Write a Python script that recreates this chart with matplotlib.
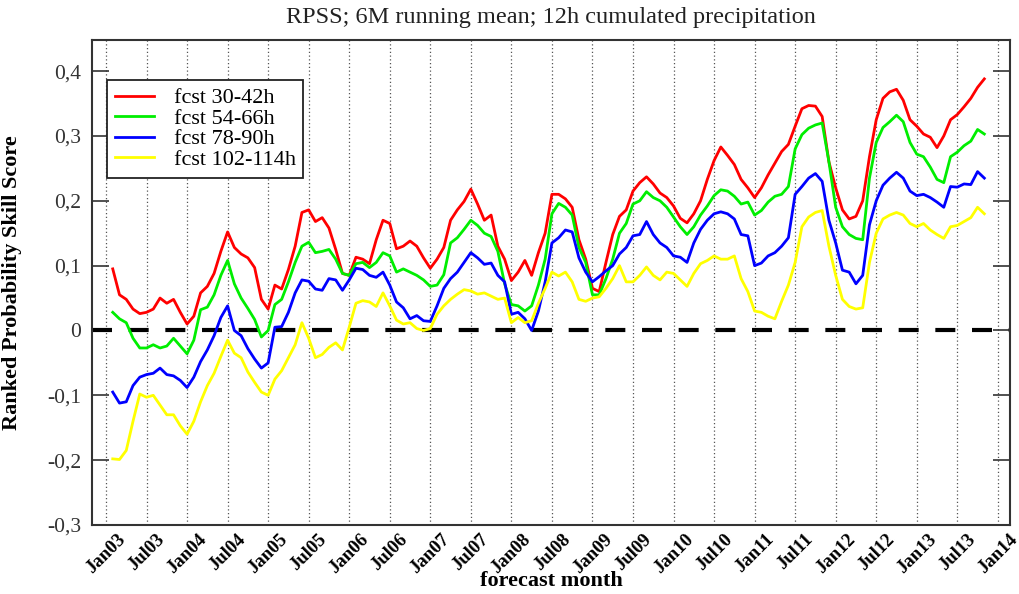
import numpy as np
import matplotlib
matplotlib.use("Agg")
import matplotlib.pyplot as plt

# month index: 0 = Jan03; data from Feb03 (1) to Nov13 (130)
months = np.arange(1, 131)

fcst_30_42 = [
    0.095, 0.055, 0.048, 0.033, 0.026, 0.028, 0.033, 0.050, 0.042, 0.048,
    0.028, 0.010, 0.022, 0.058, 0.068, 0.088, 0.122, 0.152, 0.128, 0.118,
    0.112, 0.097, 0.048, 0.033, 0.070, 0.064, 0.094, 0.130, 0.182, 0.186,
    0.168, 0.174, 0.158, 0.125, 0.088, 0.085, 0.113, 0.110, 0.103, 0.140,
    0.170, 0.165, 0.126, 0.130, 0.138, 0.130, 0.112, 0.096, 0.110, 0.128,
    0.170, 0.186, 0.199, 0.218, 0.195, 0.170, 0.178, 0.130, 0.110, 0.077,
    0.090, 0.108, 0.085, 0.120, 0.150, 0.210, 0.210, 0.203, 0.190, 0.140,
    0.110, 0.065, 0.060, 0.105, 0.148, 0.176, 0.186, 0.215, 0.228, 0.237,
    0.226, 0.212, 0.205, 0.192, 0.173, 0.166, 0.180, 0.200, 0.233, 0.262,
    0.283, 0.270, 0.256, 0.233, 0.220, 0.205, 0.220, 0.240, 0.258, 0.276,
    0.287, 0.315, 0.342, 0.347, 0.346, 0.330, 0.260, 0.220, 0.186, 0.172,
    0.176, 0.200, 0.268, 0.325, 0.358, 0.368, 0.372, 0.355, 0.325, 0.315,
    0.303, 0.298, 0.282, 0.300, 0.325, 0.333, 0.345, 0.358, 0.375, 0.388,
]

fcst_54_66 = [
    0.028, 0.018, 0.012, -0.012, -0.027, -0.027, -0.022, -0.027, -0.024, -0.012,
    -0.024, -0.036, -0.015, 0.032, 0.036, 0.055, 0.085, 0.108, 0.072, 0.050,
    0.034, 0.017, -0.010, 0.000, 0.040, 0.048, 0.075, 0.105, 0.130, 0.136,
    0.120, 0.122, 0.125, 0.110, 0.088, 0.085, 0.103, 0.105, 0.097, 0.105,
    0.120, 0.115, 0.090, 0.095, 0.090, 0.085, 0.078, 0.068, 0.070, 0.086,
    0.135, 0.143, 0.156, 0.170, 0.162, 0.150, 0.145, 0.122, 0.072, 0.040,
    0.038, 0.030, 0.038, 0.070, 0.110, 0.180, 0.196, 0.190, 0.178, 0.128,
    0.105, 0.055, 0.055, 0.080, 0.110, 0.150, 0.165, 0.195, 0.200, 0.214,
    0.205, 0.200, 0.190, 0.175, 0.160, 0.148, 0.160, 0.178, 0.192, 0.208,
    0.217, 0.215, 0.207, 0.195, 0.198, 0.178, 0.185, 0.198, 0.207, 0.210,
    0.222, 0.280, 0.302, 0.312, 0.317, 0.320, 0.260, 0.190, 0.160, 0.148,
    0.142, 0.140, 0.235, 0.290, 0.313, 0.322, 0.332, 0.322, 0.290, 0.272,
    0.268, 0.252, 0.233, 0.228, 0.268, 0.275, 0.285, 0.292, 0.310, 0.303,
]

fcst_78_90 = [
    -0.095, -0.112, -0.110, -0.085, -0.072, -0.068, -0.066, -0.058, -0.068, -0.070,
    -0.077, -0.088, -0.072, -0.048, -0.030, -0.008, 0.020, 0.038, 0.000, -0.008,
    -0.028, -0.044, -0.058, -0.050, 0.005, 0.006, 0.028, 0.058, 0.078, 0.076,
    0.064, 0.062, 0.080, 0.078, 0.062, 0.078, 0.096, 0.094, 0.085, 0.082,
    0.090, 0.070, 0.044, 0.035, 0.018, 0.023, 0.015, 0.014, 0.038, 0.065,
    0.080, 0.090, 0.105, 0.120, 0.112, 0.102, 0.104, 0.085, 0.075, 0.025,
    0.028, 0.018, 0.000, 0.030, 0.075, 0.135, 0.143, 0.155, 0.152, 0.112,
    0.090, 0.075, 0.083, 0.092, 0.100, 0.118, 0.128, 0.146, 0.148, 0.168,
    0.148, 0.135, 0.128, 0.115, 0.113, 0.105, 0.135, 0.156, 0.170, 0.180,
    0.183, 0.180, 0.172, 0.148, 0.146, 0.100, 0.104, 0.115, 0.120, 0.130,
    0.143, 0.210, 0.222, 0.235, 0.242, 0.230, 0.170, 0.135, 0.093, 0.090,
    0.072, 0.085, 0.163, 0.200, 0.224, 0.235, 0.244, 0.235, 0.215, 0.208,
    0.210, 0.205, 0.198, 0.190, 0.222, 0.221, 0.226, 0.225, 0.245, 0.235,
]

fcst_102_114 = [
    -0.198, -0.199, -0.185, -0.140, -0.098, -0.103, -0.100, -0.115, -0.130, -0.130,
    -0.147, -0.160, -0.140, -0.110, -0.085, -0.066, -0.040, -0.015, -0.035, -0.042,
    -0.064, -0.080, -0.095, -0.100, -0.075, -0.062, -0.042, -0.022, 0.012, -0.012,
    -0.042, -0.037, -0.026, -0.019, -0.030, 0.005, 0.042, 0.046, 0.044, 0.037,
    0.058, 0.038, 0.016, 0.010, 0.012, 0.003, 0.000, 0.003, 0.025, 0.038,
    0.048, 0.056, 0.063, 0.061, 0.056, 0.058, 0.053, 0.048, 0.050, 0.012,
    0.020, 0.012, 0.015, 0.042, 0.065, 0.090, 0.084, 0.090, 0.075, 0.048,
    0.045, 0.050, 0.052, 0.065, 0.080, 0.100, 0.075, 0.075, 0.085, 0.098,
    0.085, 0.078, 0.090, 0.088, 0.078, 0.068, 0.088, 0.103, 0.108, 0.115,
    0.110, 0.110, 0.115, 0.080, 0.060, 0.030, 0.028, 0.022, 0.018, 0.045,
    0.070, 0.105, 0.160, 0.175, 0.182, 0.185, 0.130, 0.085, 0.048, 0.037,
    0.033, 0.035, 0.105, 0.150, 0.172, 0.178, 0.182, 0.178, 0.165, 0.160,
    0.165, 0.155, 0.148, 0.142, 0.160, 0.162, 0.168, 0.174, 0.190, 0.180,
]

series_labels = ["fcst 30-42h", "fcst 54-66h", "fcst 78-90h", "fcst 102-114h"]
series_colors = ["#ff0000", "#00ee00", "#0000ff", "#ffff00"]

tick_months = np.arange(0, 133, 6)
tick_labels = ["Jan03", "Jul03", "Jan04", "Jul04", "Jan05", "Jul05", "Jan06",
               "Jul06", "Jan07", "Jul07", "Jan08", "Jul08", "Jan09", "Jul09",
               "Jan10", "Jul10", "Jan11", "Jul11", "Jan12", "Jul12", "Jan13",
               "Jul13", "Jan14"]
y_ticks = [-0.3, -0.2, -0.1, 0.0, 0.1, 0.2, 0.3, 0.4]
y_tick_labels = ["-0,3", "-0,2", "-0,1", "0", "0,1", "0,2", "0,3", "0,4"]

SERIF = "Liberation Serif"

fig = plt.figure(figsize=(10.2, 5.94), dpi=100)
ax = fig.add_axes([92 / 1020, 1 - 525 / 594, 918 / 1020, 485 / 594])

for x in tick_months:
    ax.axvline(x, color="#555555", lw=0.9, ls=(0, (1, 2)), zorder=1)

ax.axhline(0, color="black", lw=3, dashes=(4.8, 4.0), zorder=2)

for vals, lab, col in zip([fcst_30_42, fcst_54_66, fcst_78_90, fcst_102_114],
                          series_labels, series_colors):
    ax.plot(months, vals, color=col, lw=2.0, label=lab, zorder=3)

ax.set_xlim(-2.07, 133.8)
ax.set_ylim(-0.3, 0.448)

ax.set_xticks(tick_months)
ax.set_xticklabels(tick_labels, rotation=45, ha="center",
                   fontfamily=SERIF, fontweight="bold", fontsize=13.5)
ax.tick_params(axis="x", length=0, pad=4)

ax.set_yticks(y_ticks)
ax.set_yticklabels(y_tick_labels, fontfamily=SERIF, fontsize=15.5)
ax.tick_params(axis="y", direction="in", length=12, width=1.2,
               left=True, right=True, pad=8, colors="#333333")

for sp in ax.spines.values():
    sp.set_color("#333333")
    sp.set_linewidth(1.5)

ax.set_ylabel("Ranked Probability Skill Score", fontfamily=SERIF,
              fontweight="bold", fontsize=16)
ax.yaxis.set_label_coords(-0.076, 0.5)
ax.set_xlabel("forecast month", fontfamily=SERIF, fontweight="bold",
              fontsize=16, va="top")
ax.xaxis.set_label_coords(0.5, -0.094)

fig.text(551 / 1020, 1 - 17 / 594,
         "RPSS; 6M running mean; 12h cumulated precipitation",
         ha="center", va="center", fontfamily=SERIF, fontsize=17.5,
         color="#222222")

leg = ax.legend(loc="upper left", bbox_to_anchor=((107 - 92) / 918, (525 - 80) / 485),
                borderaxespad=0, prop={"family": SERIF, "size": 16},
                handlelength=1.75, handletextpad=0.9, labelspacing=0.0,
                borderpad=0.35, fancybox=False, framealpha=1)
leg.get_frame().set_edgecolor("#222222")
leg.get_frame().set_linewidth(1.3)

fig.savefig("out.png", dpi=100)
